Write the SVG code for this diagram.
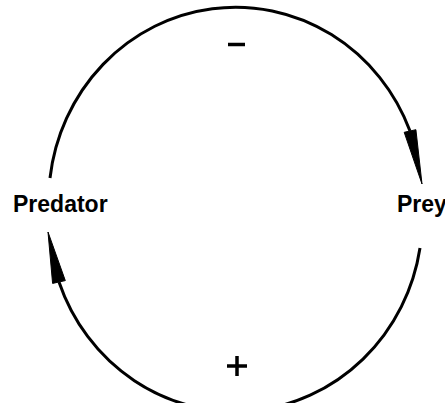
<svg xmlns="http://www.w3.org/2000/svg" width="445" height="403" viewBox="0 0 445 403">
<style>
.arc{fill:none;stroke:#000;stroke-width:3}
.head{fill:#000;stroke:#000;stroke-width:1;stroke-linejoin:miter}
.lbl{font-family:"Liberation Sans",Arial,sans-serif;font-weight:bold;font-size:23px;fill:#000}
.sign{stroke:#000;stroke-width:3.5;fill:none}
</style>
<rect width="445" height="403" fill="#fff"/>
<g id="connectors">
<path class="arc" d="M 50 178 A 187 194 0 0 1 410 131"/>
<polygon class="head" points="422,184 415.9,129.7 404.2,132.3"/>
<path class="arc" d="M 420 248 A 187 194 0 0 1 59 282"/>
<polygon class="head" points="48,232 65.3,280.6 52.6,283.4"/>
<path id="minus" class="sign" d="M 228 44.5 H 245"/>
<path id="plus" class="sign" d="M 227 366 H 247 M 237 356 V 376"/>
</g>
<g id="predator"><text class="lbl" x="13" y="212">Predator</text></g>
<g id="prey"><text class="lbl" x="397" y="212">Prey</text></g>
</svg>
